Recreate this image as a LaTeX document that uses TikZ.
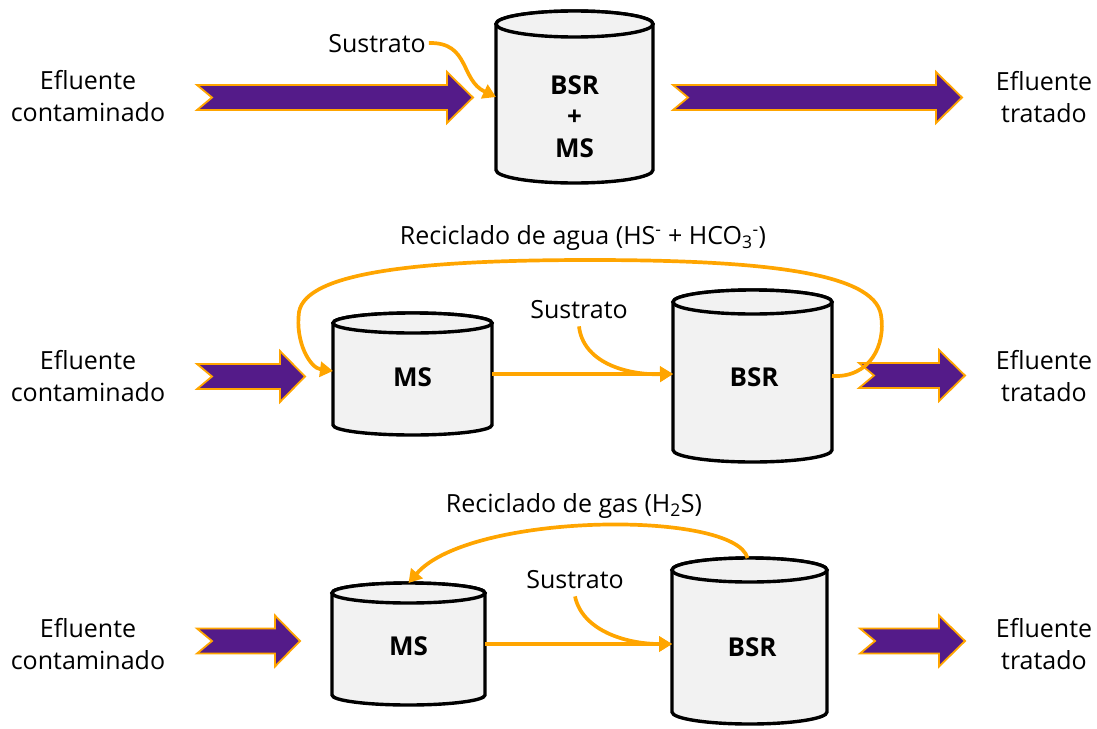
\documentclass[tikz,border=0pt]{standalone}
\usepackage{fontspec}
\setmainfont{Open Sans}
\usetikzlibrary{arrows.meta,calc}
\definecolor{flowpurple}{RGB}{84,27,137}
\definecolor{floworange}{RGB}{255,165,0}
\definecolor{tankgray}{RGB}{242,242,242}

% cylinder outline around an (empty) body node: #1 node, #2 half width, #3 half height of the ellipses
\newcommand\tankshape[3]{%
  \filldraw[tankline] (#1.north west) -- (#1.south west)
     arc[start angle=180,end angle=360,x radius=#2pt,y radius=#3pt]
     -- (#1.north east)
     arc[start angle=0,end angle=180,x radius=#2pt,y radius=#3pt] -- cycle;
  \draw[tankline] (#1.north) ellipse[x radius=#2pt,y radius=#3pt];
}
% purple block arrow with notched tail: #1 tail x, #2 tip x, #3 centre y, #4 head start x
\newcommand\blockarrow[4]{%
  \filldraw[blockstyle] ({#1},{#3-12.5}) -- ({#4},{#3-12.5}) -- ({#4},{#3-25.5})
    -- ({#2},{#3}) -- ({#4},{#3+25.5}) -- ({#4},{#3+12.5})
    -- ({#1},{#3+12.5}) -- ({#1+15},{#3}) -- cycle;
}

\tikzset{
  tankline/.style={line width=3.4pt, draw=black, fill=tankgray},
  tankbody/.style={inner sep=0pt, outer sep=0pt, minimum width=#1},
  tanktext/.style={font=\bfseries\fontsize{26}{31.5}\selectfont, align=center},
  blockstyle/.style={fill=flowpurple, draw=floworange, line width=1.8pt, line join=miter},
  lbl/.style={font=\fontsize{25}{32}\selectfont, align=center, inner sep=1pt},
  flow/.style={draw=floworange, line width=3.7pt, -{Triangle[length=13pt,width=15pt]}},
}

\begin{document}
\begin{tikzpicture}[x=1pt,y=-1pt]
\useasboundingbox (0,0) rectangle (1097,728);

% ---------- row 1: single reactor ----------
\node[lbl] (in1) at (88,96) {Efluente\\contaminado};
\node[lbl] (out1) at (1044,97) {Efluente\\tratado};
\blockarrow{197}{473}{97.5}{447}
\blockarrow{673}{962}{97.5}{936}
\node[tankbody=157pt, minimum height=146pt] (bsr1) at (574.5,97) {};
\tankshape{bsr1}{78.5}{13}
\node[tanktext] (bsr1t) at (574.5,116.5) {BSR\\+\\MS};
\node[lbl] (sus1) at (377,44) {Sustrato};
\draw[flow] ([xshift=2pt,yshift=1pt]sus1.east) .. controls (470,42) and (460,80) .. (bsr1.west);

% ---------- row 2: water recycle ----------
\node[lbl] (in2) at (88,376) {Efluente\\contaminado};
\node[lbl] (out2) at (1044,376) {Efluente\\tratado};
\blockarrow{197}{305}{376.5}{280}
\blockarrow{859}{965}{375.5}{939}
\node[tankbody=159pt, minimum height=102pt] (ms2) at (412.5,374) {};
\tankshape{ms2}{79.5}{10}
\node[tanktext] (ms2t) at (412.5,377) {MS};
\node[tankbody=159pt, minimum height=148pt] (bsr2) at (752.5,376) {};
\tankshape{bsr2}{79.5}{12}
\node[tanktext] (bsr2t) at (754,377) {BSR};
\node[lbl] (sus2) at (579,310) {Sustrato};
\node[lbl] (rec2) at (583,238) {Reciclado de agua (HS\textsuperscript{-} + HCO\textsubscript{3}\textsuperscript{-})};
\draw[flow] (ms2.east) -- (ms2.east -| bsr2.west);
\draw[flow] ([yshift=-6pt]sus2.south) .. controls (583,362) and (625,375) .. (ms2.east -| bsr2.west);
\draw[flow] (bsr2.east) .. controls (870,378) and (886,345) .. (881,315)
   .. controls (874,272) and (760,260) .. (590,260)
   .. controls (420,260) and (306,272) .. (299,312)
   .. controls (295,342) and (310,368) .. ([yshift=3pt]ms2.west);

% ---------- row 3: gas recycle ----------
\node[lbl] (in3) at (88,644) {Efluente\\contaminado};
\node[lbl] (out3) at (1044,644) {Efluente\\tratado};
\blockarrow{197}{300}{641}{275}
\blockarrow{860}{965}{641}{939}
\node[tankbody=153pt, minimum height=102pt] (ms3) at (408.5,644) {};
\tankshape{ms3}{76.5}{10}
\node[tanktext] (ms3t) at (408.5,646) {MS};
\node[tankbody=155pt, minimum height=142pt] (bsr3) at (749.5,641) {};
\tankshape{bsr3}{77.5}{12}
\node[tanktext] (bsr3t) at (752,647) {BSR};
\node[lbl] (sus3) at (575,580) {Sustrato};
\node[lbl] (rec3) at (574,506) {Reciclado de gas (H\textsubscript{2}S)};
\coordinate (gasout) at ([yshift=12pt]bsr3.north);
\coordinate (gasin) at ([yshift=10pt]ms3.north);
\draw[flow] (ms3.east) -- (ms3.east -| bsr3.west);
\draw[flow] ([yshift=-6pt]sus3.south) .. controls (582,630) and (625,644) .. (ms3.east -| bsr3.west);
\draw[flow] ([xshift=-2pt]gasout) .. controls (735,510) and (470,512) .. (gasin);
\end{tikzpicture}
\end{document}
